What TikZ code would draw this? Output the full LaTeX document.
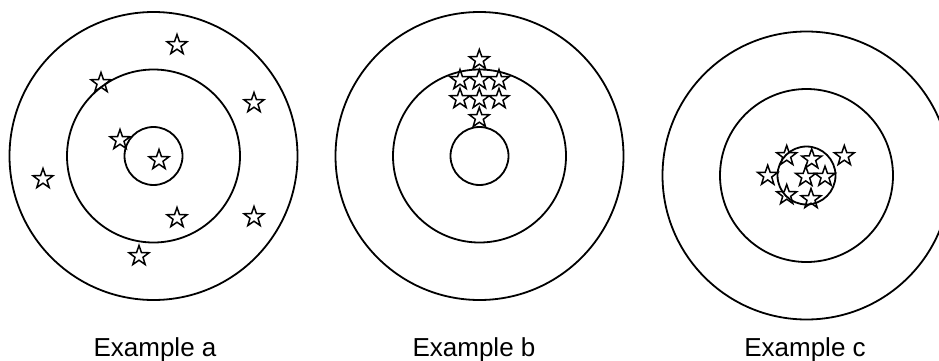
\documentclass[tikz,border=0pt]{standalone}
\usepackage{fontspec}
\setmainfont{Liberation Sans}
\usetikzlibrary{shapes.geometric}

\begin{document}
\begin{tikzpicture}[
    x=1pt, y=-1pt,
    ring/.style={line width=1.8pt},
    hit/.style={
        star,
        star points=5,
        star point ratio=2.5,
        draw,
        line width=1.5pt,
        inner sep=0pt,
        minimum size=21pt
    },
    caption/.style={
        anchor=base,
        font=\fontsize{26}{30}\selectfont
    }
]
\useasboundingbox (0,0) rectangle (939,361);

% target centres
\coordinate (ca) at (153.5,156);
\coordinate (cb) at (479.5,156);
\coordinate (cc) at (806.5,175.5);

% rings
\foreach \c in {ca,cb,cc} {
    \draw[ring] (\c) circle[radius=144];
    \draw[ring] (\c) circle[radius=86.5];
    \draw[ring] (\c) circle[radius=29];
}

% example a: scattered
\foreach \p [count=\i] in {(177,45),(101,83),(254,103),(120,140),(159,160),
                           (43,179),(177,218),(254,217),(139,256)}
    \node[hit] (a\i) at \p {};

% example b: grouped, off centre
\node[hit] (b1) at (479.3,60) {};
\foreach \y [count=\j] in {80,99}
    \foreach \x [count=\i] in {460,479.3,499}
        \node[hit] (b\j\i) at (\x,\y) {};
\node[hit] (b9) at (479.3,118) {};

% example c: grouped round the centre
\foreach \p [count=\i] in {(786.7,156),(811.7,159.3),(844.3,156),(767.7,175.7),
                           (805.7,176.7),(825,176.7),(786.7,195),(811,199)}
    \node[hit] (c\i) at \p {};

% captions
\node[caption] (la) at (155,356) {Example a};
\node[caption] (lb) at (474,356) {Example b};
\node[caption] (lc) at (805,356) {Example c};

\end{tikzpicture}
\end{document}
